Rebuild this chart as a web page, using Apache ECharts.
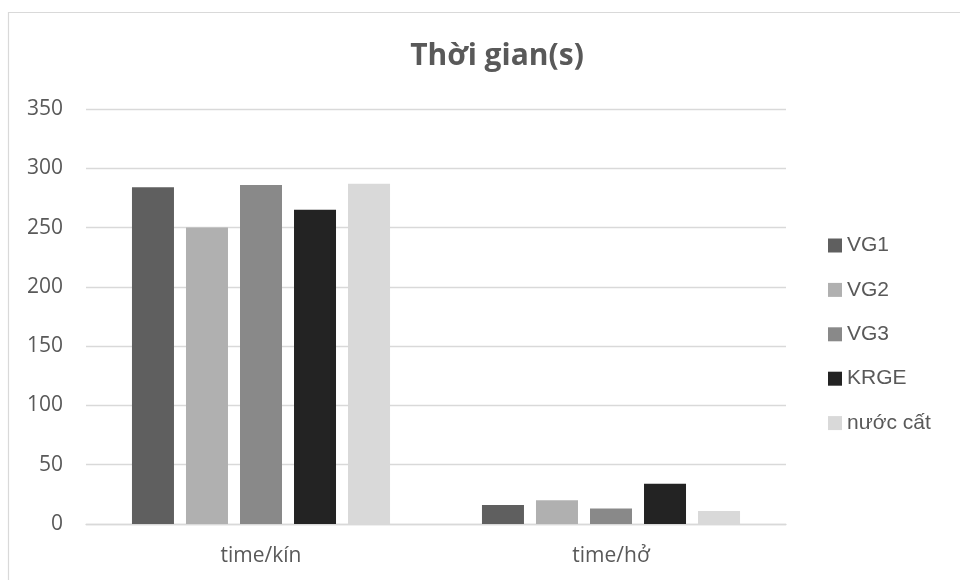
<!DOCTYPE html>
<html>
<head>
<meta charset="utf-8">
<script src="https://cdn.jsdelivr.net/npm/echarts@6/dist/echarts.min.js"></script>
<style>html,body{margin:0;padding:0;background:#fff;}#c{width:960px;height:580px;}</style>
</head>
<body>
<div id="c"></div>
<script>
const categories = ['time/kín', 'time/hở'];
const seriesNames = ['VG1', 'VG2', 'VG3', 'KRGE', 'nước cất'];
const VG1 = [284, 16];
const VG2 = [250, 20];
const VG3 = [286, 13];
const KRGE = [265, 34];
const nuocCat = [287, 11];
const yTicks = [0, 50, 100, 150, 200, 250, 300, 350];
const colors = ['#5f5f5f', '#b0b0b0', '#898989', '#232323', '#d9d9d9'];

const values = [VG1, VG2, VG3, KRGE, nuocCat];
const chart = echarts.init(document.getElementById('c'), null, {renderer: 'canvas'});
const labelFont = '"Open Sans", sans-serif';
chart.setOption({
  animation: false,
  backgroundColor: '#fff',
  graphic: [{
    type: 'rect', left: 6, top: 10, silent: true,
    shape: {width: 1000, height: 620},
    style: {fill: 'none', stroke: '#d9d9d9', lineWidth: 1.2}
  }],
  title: {
    text: 'Thời gian(s)', left: 492, top: 36, textAlign: 'center',
    textStyle: {fontFamily: labelFont, fontWeight: 'bold', fontSize: 30, color: '#595959'}
  },
  legend: {
    orient: 'vertical', left: 828, top: 235, padding: 0, itemWidth: 14, itemHeight: 14, itemGap: 23.4,
    icon: 'rect',
    textStyle: {fontFamily: '"Liberation Sans", Arial, sans-serif', fontSize: 21, lineHeight: 20, color: '#595959'},
    data: seriesNames
  },
  grid: {left: 86, right: 174, top: 109, bottom: 56, containLabel: false},
  xAxis: {
    type: 'category', data: categories,
    axisLine: {show: true, lineStyle: {color: '#d9d9d9', width: 1.3}},
    axisTick: {show: false},
    axisLabel: {fontFamily: labelFont, fontSize: 21, color: '#595959', margin: 22}
  },
  yAxis: {
    type: 'value', min: yTicks[0], max: yTicks[yTicks.length - 1], interval: 50,
    axisLine: {show: false}, axisTick: {show: false},
    splitLine: {lineStyle: {color: '#d9d9d9', width: 1.3}},
    axisLabel: {fontFamily: labelFont, fontSize: 21, color: '#595959', margin: 23}
  },
  series: seriesNames.map((n, i) => ({
    name: n, type: 'bar', data: values[i], barWidth: 42, barGap: '28.6%',
    itemStyle: {color: colors[i]}
  }))
});
</script>
</body>
</html>
